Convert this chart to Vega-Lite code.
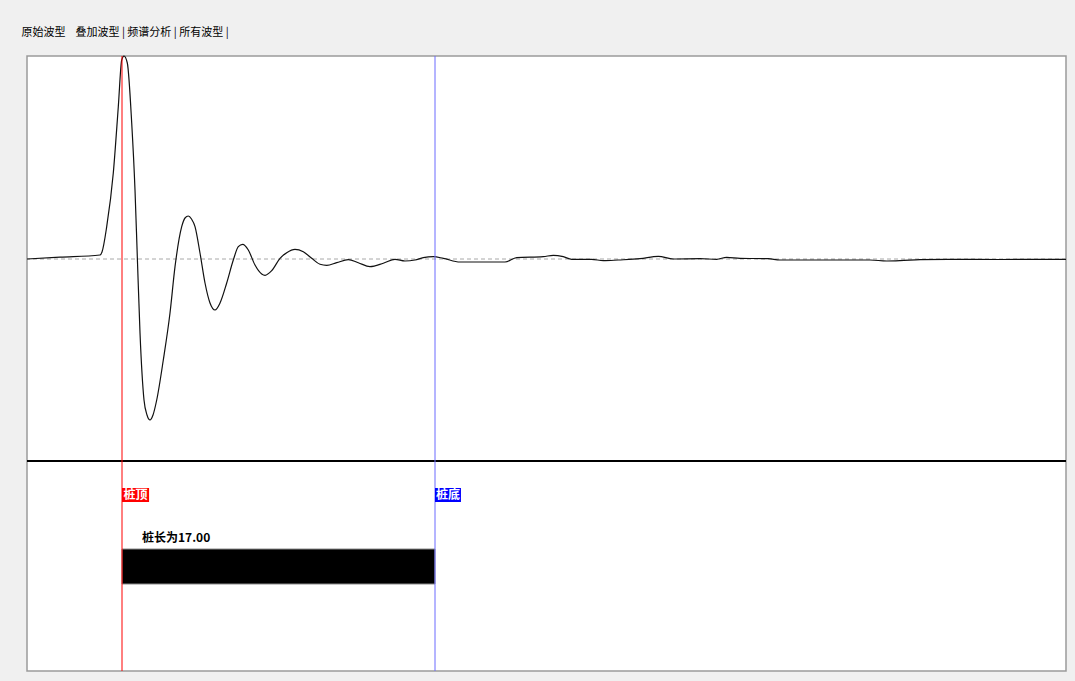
{
  "$schema": "https://vega.github.io/schema/vega-lite/v6.json",
  "width": 1039,
  "height": 615,
  "padding": {"left": 21, "top": 26, "right": 9, "bottom": 10},
  "background": "#f0f0f0",
  "config": {
    "view": {"fill": "white", "stroke": "#9a9a9a", "strokeWidth": 1.5},
    "font": "Noto Sans CJK SC"
  },
  "title": {
    "text": "原始波型\u00a0\u00a0\u00a0\u00a0叠加波型\u00a0|\u00a0频谱分析\u00a0|\u00a0所有波型\u00a0|",
    "anchor": "start",
    "fontSize": 11,
    "fontWeight": "normal",
    "color": "#000000",
    "offset": 16,
    "dx": -3,
    "font": "Noto Sans CJK SC"
  },
  "datasets": {
    "wave": [
      {"depth": -5.160, "amp": 0},
      {"depth": -3.367, "amp": 1.8},
      {"depth": -1.195, "amp": 4},
      {"depth": -1.086, "amp": 7},
      {"depth": -0.831, "amp": 32.3},
      {"depth": -0.473, "amp": 86},
      {"depth": -0.201, "amp": 152.3},
      {"depth": -0.016, "amp": 199},
      {"depth": 0.109, "amp": 203},
      {"depth": 0.288, "amp": 196},
      {"depth": 0.527, "amp": 136},
      {"depth": 0.706, "amp": 69},
      {"depth": 0.831, "amp": 2.3},
      {"depth": 0.978, "amp": -74},
      {"depth": 1.195, "amp": -141},
      {"depth": 1.358, "amp": -156},
      {"depth": 1.521, "amp": -161},
      {"depth": 1.684, "amp": -156},
      {"depth": 1.885, "amp": -141},
      {"depth": 2.243, "amp": -101},
      {"depth": 2.607, "amp": -54},
      {"depth": 2.879, "amp": -7.7},
      {"depth": 3.242, "amp": 32.3},
      {"depth": 3.422, "amp": 41},
      {"depth": 3.601, "amp": 43},
      {"depth": 3.775, "amp": 40},
      {"depth": 3.965, "amp": 32.3},
      {"depth": 4.236, "amp": 6},
      {"depth": 4.508, "amp": -24},
      {"depth": 4.779, "amp": -44},
      {"depth": 5.051, "amp": -51},
      {"depth": 5.323, "amp": -44},
      {"depth": 5.686, "amp": -24},
      {"depth": 6.045, "amp": -1},
      {"depth": 6.316, "amp": 12.3},
      {"depth": 6.555, "amp": 14.7},
      {"depth": 6.860, "amp": 9},
      {"depth": 7.223, "amp": -6},
      {"depth": 7.587, "amp": -15},
      {"depth": 7.767, "amp": -16.3},
      {"depth": 8.130, "amp": -11.7},
      {"depth": 8.581, "amp": 0.7},
      {"depth": 8.945, "amp": 6.3},
      {"depth": 9.396, "amp": 9.7},
      {"depth": 9.847, "amp": 7.3},
      {"depth": 10.303, "amp": 0.7},
      {"depth": 10.754, "amp": -5.3},
      {"depth": 11.118, "amp": -6.3},
      {"depth": 11.661, "amp": -3.7},
      {"depth": 12.291, "amp": -0.7},
      {"depth": 12.834, "amp": -3.7},
      {"depth": 13.469, "amp": -7.7},
      {"depth": 14.192, "amp": -4.3},
      {"depth": 14.827, "amp": -0.3},
      {"depth": 15.370, "amp": -2},
      {"depth": 15.913, "amp": -1},
      {"depth": 16.364, "amp": 1.3},
      {"depth": 16.907, "amp": 2.3},
      {"depth": 17.451, "amp": 0.7},
      {"depth": 18.357, "amp": -3},
      {"depth": 20.801, "amp": -3},
      {"depth": 21.437, "amp": 1.3},
      {"depth": 22.882, "amp": 2.3},
      {"depth": 23.425, "amp": 3.7},
      {"depth": 23.968, "amp": 2.3},
      {"depth": 24.424, "amp": -0.3},
      {"depth": 25.510, "amp": -0.3},
      {"depth": 26.140, "amp": -1.7},
      {"depth": 26.955, "amp": -1},
      {"depth": 28.134, "amp": 0.3},
      {"depth": 29.128, "amp": 2.7},
      {"depth": 29.942, "amp": 0},
      {"depth": 31.392, "amp": 0.3},
      {"depth": 32.299, "amp": -0.3},
      {"depth": 32.843, "amp": 1.7},
      {"depth": 33.565, "amp": 0.7},
      {"depth": 35.102, "amp": 0.3},
      {"depth": 35.737, "amp": -1},
      {"depth": 40.625, "amp": -1},
      {"depth": 41.532, "amp": -2},
      {"depth": 42.255, "amp": -1.7},
      {"depth": 43.341, "amp": -0.7},
      {"depth": 44.878, "amp": -0.3},
      {"depth": 47.686, "amp": -0.5},
      {"depth": 51.271, "amp": -0.3}
    ],
    "markers": [
      {"name": "桩顶", "depth": 0, "x2": 1.47, "ytop": -229, "ybot": -243, "xc": 0.735, "yc": -236},
      {"name": "桩底", "depth": 17, "x2": 18.41, "ytop": -229, "ybot": -243, "xc": 17.705, "yc": -236}
    ],
    "pile": [
      {"label": "桩长为17.00", "start": 0, "end": 17, "top": -290, "bottom": -325, "tx": 1.086, "ty": -278.5}
    ],
    "baseline": [{"amp": 0}],
    "divider": [{"amp": -202}]
  },
  "resolve": {"scale": {"color": "independent"}},
  "layer": [
    {
      "data": {"name": "baseline"},
      "mark": {"type": "rule", "color": "#a8a8a8", "strokeDash": [4, 3], "strokeWidth": 1},
      "encoding": {
        "y": {"field": "amp", "type": "quantitative", "scale": {"domain": [-412, 203], "nice": false, "zero": false}, "axis": null}
      }
    },
    {
      "data": {"name": "wave"},
      "mark": {"type": "line", "color": "#111111", "strokeWidth": 1.2, "interpolate": "monotone"},
      "encoding": {
        "x": {"field": "depth", "type": "quantitative", "scale": {"domain": [-5.16, 51.271], "nice": false, "zero": false}, "axis": null},
        "y": {"field": "amp", "type": "quantitative", "scale": {"domain": [-412, 203], "nice": false, "zero": false}, "axis": null}
      }
    },
    {
      "data": {"name": "divider"},
      "mark": {"type": "rule", "color": "#000000", "strokeWidth": 2},
      "encoding": {
        "y": {"field": "amp", "type": "quantitative", "scale": {"domain": [-412, 203], "nice": false, "zero": false}, "axis": null}
      }
    },
    {
      "data": {"name": "pile"},
      "mark": {"type": "rect", "color": "#000000", "stroke": "#8a8a8a", "strokeWidth": 1},
      "encoding": {
        "x": {"field": "start", "type": "quantitative", "scale": {"domain": [-5.16, 51.271], "nice": false, "zero": false}, "axis": null},
        "x2": {"field": "end"},
        "y": {"field": "top", "type": "quantitative", "scale": {"domain": [-412, 203], "nice": false, "zero": false}, "axis": null},
        "y2": {"field": "bottom"}
      }
    },
    {
      "data": {"name": "pile"},
      "mark": {"type": "text", "align": "left", "baseline": "middle", "fontSize": 12, "fontWeight": "bold", "color": "#000000", "font": "Noto Sans CJK SC"},
      "encoding": {
        "x": {"field": "tx", "type": "quantitative", "scale": {"domain": [-5.16, 51.271], "nice": false, "zero": false}, "axis": null},
        "y": {"field": "ty", "type": "quantitative", "scale": {"domain": [-412, 203], "nice": false, "zero": false}, "axis": null},
        "text": {"field": "label"}
      }
    },
    {
      "data": {"name": "markers"},
      "mark": {"type": "rule", "strokeWidth": 1},
      "encoding": {
        "x": {"field": "depth", "type": "quantitative", "scale": {"domain": [-5.16, 51.271], "nice": false, "zero": false}, "axis": null},
        "color": {"field": "name", "type": "nominal", "scale": {"domain": ["桩顶", "桩底"], "range": ["#ff0000", "#6b6bff"]}, "legend": null}
      }
    },
    {
      "data": {"name": "markers"},
      "mark": {"type": "rect"},
      "encoding": {
        "x": {"field": "depth", "type": "quantitative", "scale": {"domain": [-5.16, 51.271], "nice": false, "zero": false}, "axis": null},
        "x2": {"field": "x2"},
        "y": {"field": "ytop", "type": "quantitative", "scale": {"domain": [-412, 203], "nice": false, "zero": false}, "axis": null},
        "y2": {"field": "ybot"},
        "color": {"field": "name", "type": "nominal", "scale": {"domain": ["桩顶", "桩底"], "range": ["#ff0000", "#0000ff"]}, "legend": null}
      }
    },
    {
      "data": {"name": "markers"},
      "mark": {"type": "text", "align": "center", "baseline": "middle", "fontSize": 12, "fontWeight": "bold", "color": "#ffffff", "font": "Noto Sans CJK SC"},
      "encoding": {
        "x": {"field": "xc", "type": "quantitative", "scale": {"domain": [-5.16, 51.271], "nice": false, "zero": false}, "axis": null},
        "y": {"field": "yc", "type": "quantitative", "scale": {"domain": [-412, 203], "nice": false, "zero": false}, "axis": null},
        "text": {"field": "name"}
      }
    }
  ]
}
